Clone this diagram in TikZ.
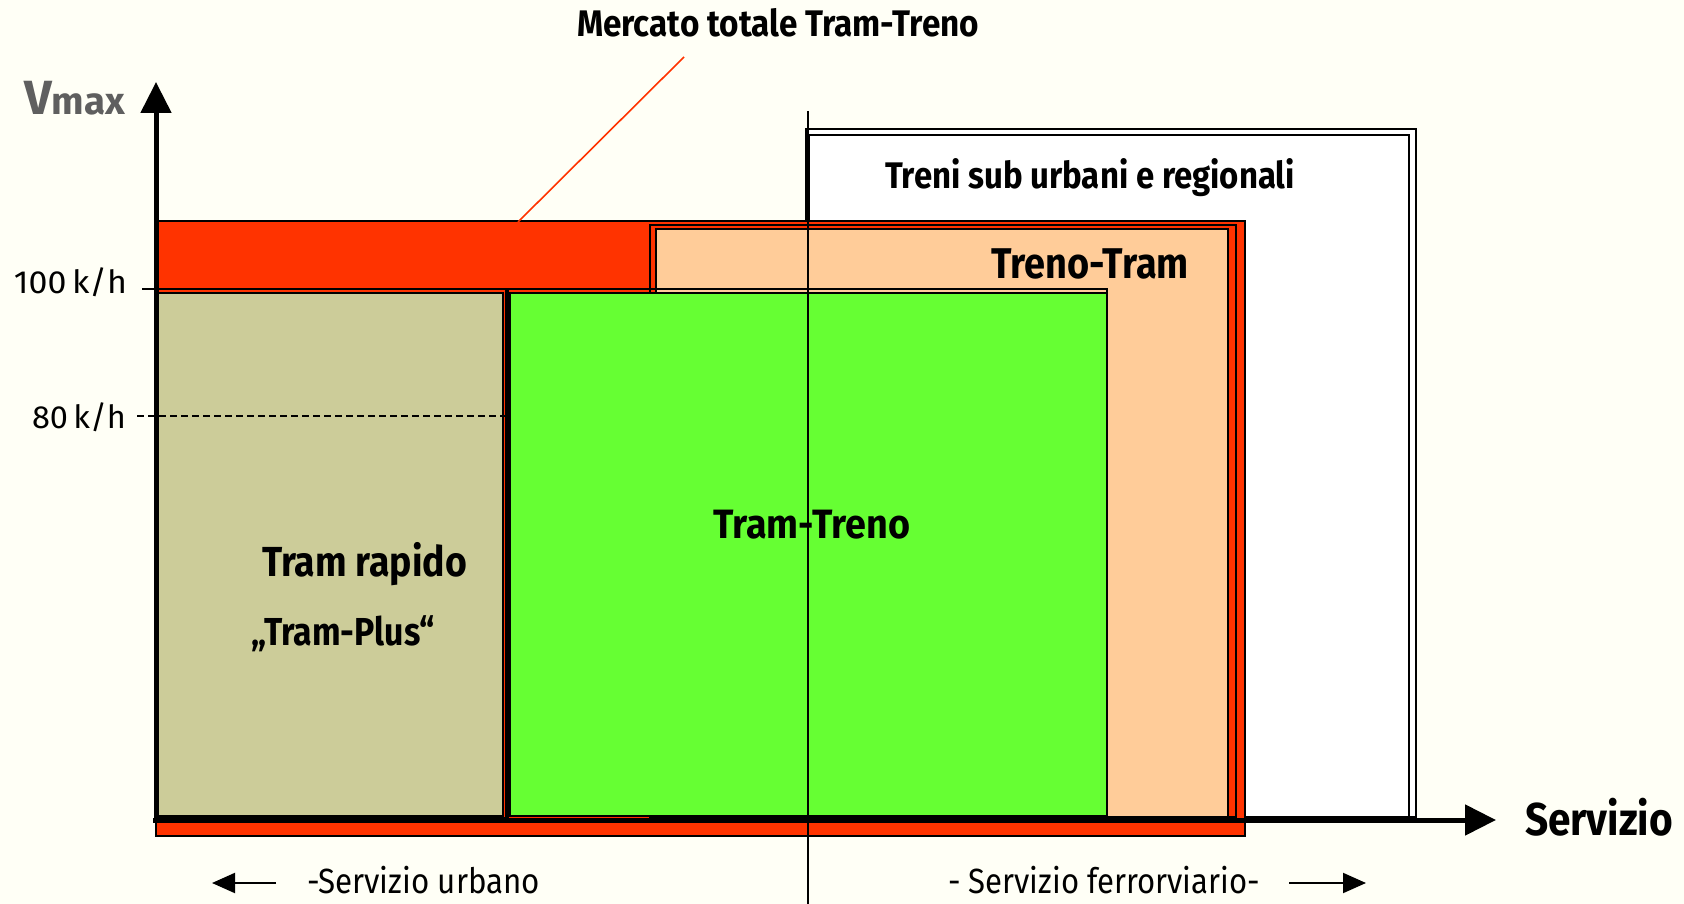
\documentclass[tikz,border=0pt]{standalone}
\usepackage{fontspec}
\setmainfont{Fira Sans}
\usepackage{graphicx}
\usetikzlibrary{arrows.meta}
\definecolor{bgc}{HTML}{FFFFF6}
\definecolor{redc}{HTML}{FF3300}
\definecolor{tanc}{HTML}{CCCC99}
\definecolor{greenc}{HTML}{66FF33}
\definecolor{peachc}{HTML}{FFCC99}
\definecolor{vgrey}{HTML}{5F5F5F}
\newcommand{\fittext}[2]{\setbox0=\hbox{#2}\pgfmathsetmacro\fitratio{#1/\the\wd0}\scalebox{\fitratio}[1]{\box0}}
\newcommand{\fs}[1]{\fontsize{#1}{#1}\selectfont}
\tikzset{
  box/.style={draw=black, line width=1.3pt},
  lbl/.style={anchor=base west, inner sep=0pt, outer sep=0pt},
  axis/.style={line width=5pt, -{Triangle[length=31pt,width=30pt]}},
  smallarrow/.style={line width=2pt, -{Triangle[length=23pt,width=20pt]}},
}
\begin{document}
\begin{tikzpicture}[x=1pt,y=-1pt]
\useasboundingbox (0,0) rectangle (1684,904);
\fill[bgc] (0,0) rectangle (1684,904);
% Treni sub urbani e regionali
\filldraw[box, fill=white] (806,129) rectangle (1416,817);
\draw[box] (809,135) rectangle (1409,817);
% Mercato totale (red)
\filldraw[box, fill=redc] (156,221) rectangle (1245,836);
% Treno-Tram
\draw[box] (650,225) rectangle (1236,817);
\filldraw[box, fill=peachc] (656,229) rectangle (1228,817);
% Tram rapido
\draw[box] (156,289) rectangle (508,818);
\filldraw[box, fill=tanc] (156,293) rectangle (503,816);
% Tram-Treno
\draw[box] (506,289) rectangle (1107,816);
\filldraw[box, fill=greenc] (510,293) rectangle (1107,816);
% dashed 80 line and tick
\draw[line width=1.5pt, dash pattern=on 7pt off 4pt] (137,416) -- (505,416);
\draw[line width=1.5pt] (142,289) -- (156,289);
% axes
\coordinate (origin) at (156,820);
\coordinate (ytip) at (156,82);
\coordinate (xtip) at (1496,820);
\draw[axis] (156,822) -- (ytip);
\draw[axis] (153,820) -- (xtip);
% divider
\coordinate (divtop) at (808,111);
\coordinate (divbot) at (808,904);
\draw[line width=1.2pt] (divtop) -- (divbot);
% texts
\node[lbl] (mercato) at (577,37) {\fittext{402}{\fs{37}\bfseries Mercato totale Tram-Treno}};
\coordinate (leadtop) at (684,57);
\coordinate (leadbot) at (518,222);
\draw[redc, line width=1.6pt] (leadtop) -- (leadbot);
\node[lbl] (treni) at (885,189) {\fittext{410}{\fs{37}\bfseries Treni sub urbani e regionali}};
\node[lbl] (trenotram) at (991,278) {\fittext{198}{\fs{43}\bfseries Treno-Tram}};
\node[lbl] (tramrapido) at (262,576) {\fittext{205}{\fs{42}\bfseries Tram rapido}};
\node[lbl] (tramplus) at (251,645) {\fittext{184}{\fs{39}\bfseries „Tram-Plus“}};
\node[lbl] (tramtreno) at (713,538) {\fittext{197}{\fs{41}\bfseries Tram-Treno}};
\node[lbl] (servizio) at (1525,835) {\fittext{148}{\fs{46}\bfseries Servizio}};
\node[lbl, text=vgrey] (vmax) at (24,115) {\fittext{101}{\bfseries\fs{48}V\fs{38}max}};
\node[lbl] (k100) at (14,293) {\fittext{113}{\fs{32}100\,k/h}};
\node[lbl] (k80) at (32,428) {\fittext{94}{\fs{32}80\,k/h}};
\node[lbl] (urbano) at (307,893) {\fittext{233}{\fs{35}-Servizio urbano}};
\node[lbl] (ferro) at (948,893) {\fittext{312}{\fs{35}- Servizio ferrorviario-}};
% bottom arrows
\coordinate (la1) at (276,883);
\coordinate (la2) at (212,883);
\coordinate (ra1) at (1289,883);
\coordinate (ra2) at (1366,883);
\draw[smallarrow] (la1) -- (la2);
\draw[smallarrow] (ra1) -- (ra2);
\end{tikzpicture}
\end{document}
